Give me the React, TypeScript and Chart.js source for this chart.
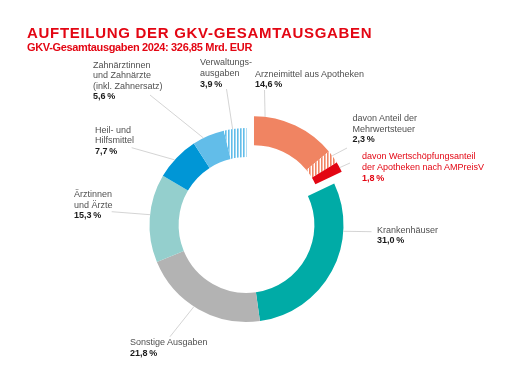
import { useEffect, useRef } from 'react';
import { Chart, registerables } from 'chart.js';

Chart.register(...registerables);

// ---- data ----
const categories = [
  'Arzneimittel aus Apotheken',
  'davon Anteil der Mehrwertsteuer',
  'davon Wertschöpfungsanteil der Apotheken nach AMPreisV',
  'Krankenhäuser',
  'Sonstige Ausgaben',
  'Ärztinnen und Ärzte',
  'Heil- und Hilfsmittel',
  'Zahnärztinnen und Zahnärzte (inkl. Zahnersatz)',
  'Verwaltungsausgaben',
];
const shares = [14.6, 2.3, 1.8, 31.0, 21.8, 15.3, 7.7, 5.6, 3.9];
const labelLines = [
  ['Arzneimittel aus Apotheken'],
  ['davon Anteil der', 'Mehrwertsteuer'],
  ['davon Wertschöpfungsanteil', 'der Apotheken nach AMPreisV'],
  ['Krankenhäuser'],
  ['Sonstige Ausgaben'],
  ['Ärztinnen', 'und Ärzte'],
  ['Heil- und', 'Hilfsmittel'],
  ['Zahnärztinnen', 'und Zahnärzte', '(inkl. Zahnersatz)'],
  ['Verwaltungs-', 'ausgaben'],
];
const explodedGroup = [0, 1, 2];
const titleText = 'AUFTEILUNG DER GKV-GESAMTAUSGABEN';
const subtitleText = 'GKV-Gesamtausgaben 2024: 326,85 Mrd. EUR';

// ---- styles / layout ----
const RED = '#e30613';
const sliceColors = ['#f08462', '#f08462', RED, '#00aba6', '#b3b3b3', '#94cfcd', '#0096d6', '#62bde9', '#62bde9'];
const hatched = [false, true, false, false, false, false, false, false, true];
const labelRed = [false, false, true, false, false, false, false, false, false];
const EXPLODE = 14;
// label block (left, top), leader outer end (lx, ly), attach fraction along arc (t)
const labelLayout = [
  { x: 255, y: 68.7, lx: 264.5, ly: 90, t: 0.13 },
  { x: 352.5, y: 113, lx: 347, ly: 148, t: 0.4 },
  { x: 362, y: 151.4, lx: 350, ly: 163, t: 0.56 },
  { x: 377, y: 224.7, lx: 371.5, ly: 231.7, t: 0.27 },
  { x: 130, y: 337.4, lx: 170, ly: 336.7, t: 0.54 },
  { x: 74, y: 189, lx: 111.7, ly: 211.7, t: 0.54 },
  { x: 95, y: 124.7, lx: 131.7, ly: 147.7, t: 0.44 },
  { x: 93, y: 59.7, lx: 150, ly: 95, t: 0.34 },
  { x: 200, y: 57.4, lx: 226.5, ly: 89, t: 0.39 },
];
const FONT = "'Liberation Sans', Arial, Helvetica, sans-serif";

function fmt(v: number) {
  return v.toFixed(1).replace('.', ',') + '\u2009%';
}

function hatchPattern(color: string) {
  const c = document.createElement('canvas');
  c.width = 3;
  c.height = 3;
  const g = c.getContext('2d')!;
  g.fillStyle = '#ffffff';
  g.fillRect(0, 0, 3, 3);
  g.fillStyle = color;
  g.fillRect(0, 0, 1.6, 3);
  return g.createPattern(c, 'repeat')!;
}

const explodePlugin = {
  id: 'explodeGroup',
  afterDatasetsUpdate(chart: any) {
    const arcs = chart.getDatasetMeta(0).data as any[];
    const first = arcs[explodedGroup[0]];
    const last = arcs[explodedGroup[explodedGroup.length - 1]];
    const mid = (first.startAngle + last.endAngle) / 2;
    for (const i of explodedGroup) {
      arcs[i].x += Math.cos(mid) * EXPLODE;
      arcs[i].y += Math.sin(mid) * EXPLODE;
    }
  },
};

const leaderPlugin = {
  id: 'leaders',
  afterDatasetsDraw(chart: any) {
    const ctx = chart.ctx as CanvasRenderingContext2D;
    const arcs = chart.getDatasetMeta(0).data as any[];
    ctx.save();
    ctx.strokeStyle = '#c9c9c9';
    ctx.lineWidth = 0.8;
    arcs.forEach((arc, i) => {
      const L = labelLayout[i];
      const a = arc.startAngle + L.t * (arc.endAngle - arc.startAngle);
      const px = arc.x + Math.cos(a) * arc.outerRadius;
      const py = arc.y + Math.sin(a) * arc.outerRadius;
      ctx.beginPath();
      ctx.moveTo(px, py);
      ctx.lineTo(L.lx, L.ly);
      ctx.stroke();
    });
    ctx.restore();
  },
};

export default function App() {
  const ref = useRef<HTMLCanvasElement>(null);

  useEffect(() => {
    document.body.style.margin = '0';
    const colors = sliceColors.map((c, i) => (hatched[i] ? hatchPattern(c) : c));
    const chart = new Chart(ref.current!, {
      type: 'doughnut',
      data: {
        labels: categories,
        datasets: [
          {
            data: shares,
            backgroundColor: colors as any,
            borderWidth: 0,
          },
        ],
      },
      options: {
        responsive: false,
        animation: false,
        events: [],
        radius: 97,
        cutout: '70%',
        layout: { padding: { left: 0, right: 15, top: 69, bottom: 0 } },
        plugins: { legend: { display: false }, tooltip: { enabled: false } },
      },
      plugins: [explodePlugin, leaderPlugin],
    });
    return () => chart.destroy();
  }, []);

  return (
    <div style={{ position: 'fixed', left: 0, top: 0, width: 508, height: 381, background: '#fff', fontFamily: FONT }}>
      <canvas ref={ref} width={508} height={381} style={{ position: 'absolute', left: 0, top: 0 }} />
      <div
        style={{
          position: 'absolute',
          left: 27,
          top: 24.6,
          fontSize: 15,
          lineHeight: '15px',
          fontWeight: 700,
          letterSpacing: '0.7px',
          color: RED,
          whiteSpace: 'nowrap',
        }}
      >
        {titleText}
      </div>
      <div
        style={{
          position: 'absolute',
          left: 27,
          top: 41.7,
          fontSize: 11,
          lineHeight: '11px',
          fontWeight: 700,
          letterSpacing: '-0.35px',
          color: RED,
          whiteSpace: 'nowrap',
        }}
      >
        {subtitleText}
      </div>
      {labelLines.map((lines, i) => {
        const L = labelLayout[i];
        const red = labelRed[i];
        return (
          <div
            key={i}
            style={{
              position: 'absolute',
              left: L.x,
              top: L.y,
              fontSize: 9,
              lineHeight: '10.6px',
              color: red ? RED : '#505050',
              whiteSpace: 'nowrap',
            }}
          >
            {lines.map((ln, j) => (
              <div key={j}>{ln}</div>
            ))}
            <div style={{ fontWeight: 700, color: red ? RED : '#1a1a1a' }}>{fmt(shares[i])}</div>
          </div>
        );
      })}
    </div>
  );
}
